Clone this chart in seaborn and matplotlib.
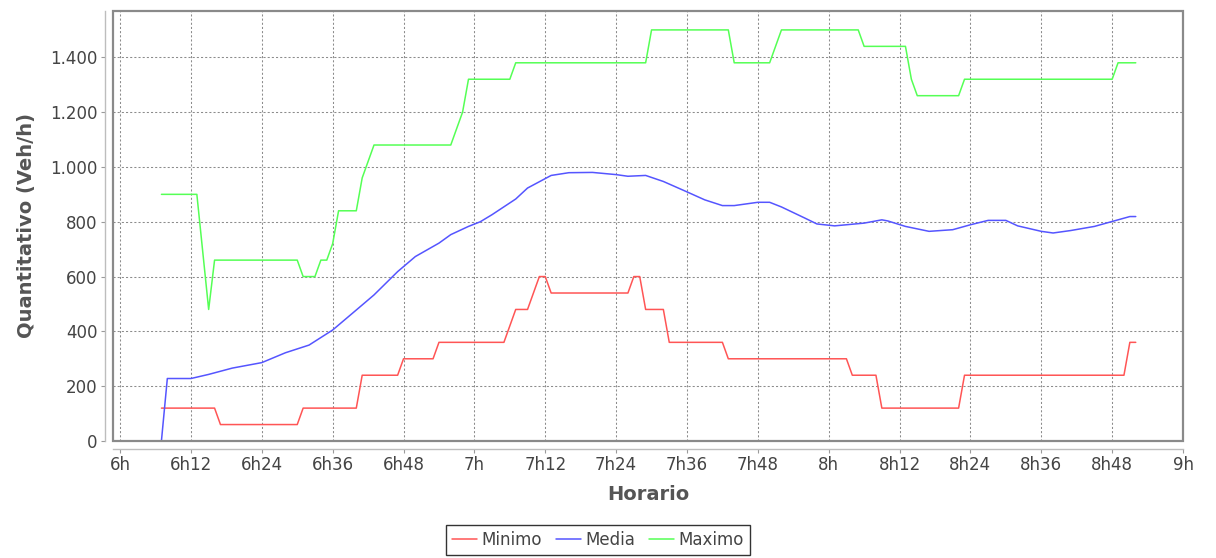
import pandas as pd
import matplotlib
matplotlib.use('Agg')
import matplotlib.pyplot as plt
from matplotlib.patches import Rectangle
import seaborn as sns

# minutos depois das 6h
minimo_t = [7, 16, 17, 30, 31, 40, 41, 47, 48, 53, 54, 65, 67, 69, 71, 72, 73, 86, 87, 88, 89,
            92, 93, 102, 103, 123, 124, 128, 129, 142, 143, 170, 171, 172]
minimo_v = [120, 120, 60, 60, 120, 120, 240, 240, 300, 300, 360, 360, 480, 480, 600, 600, 540, 540,
            600, 600, 480, 480, 360, 360, 300, 300, 240, 240, 120, 120, 240, 240, 360, 360]

media_t = [7, 8, 12, 15, 19, 24, 28, 32, 36, 40, 43, 47, 50, 54, 56, 59, 61, 63, 67, 69, 73, 76,
           80, 84, 86, 89, 92, 96, 99, 102, 104, 108, 110, 112, 116, 118, 121, 126, 129, 130, 133,
           137, 141, 144, 147, 150, 152, 156, 158, 161, 165, 168, 171, 172]
media_v = [0, 228, 228, 243, 266, 286, 322, 350, 405, 478, 533, 618, 673, 722, 753, 783, 800, 826,
           883, 923, 969, 979, 980, 972, 966, 969, 947, 909, 880, 859, 859, 871, 871, 854, 813, 792,
           785, 795, 807, 803, 783, 765, 771, 789, 805, 805, 785, 765, 759, 768, 783, 801, 819, 819]

maximo_t = [7, 13, 15, 16, 30, 31, 33, 34, 35, 36, 37, 40, 41, 43, 56, 58, 59, 66, 67, 89, 90, 103,
            104, 110, 112, 125, 126, 133, 134, 135, 142, 143, 168, 169, 172]
maximo_v = [900, 900, 480, 660, 660, 600, 600, 660, 660, 720, 840, 840, 960, 1080, 1080, 1200, 1320,
            1320, 1380, 1380, 1500, 1500, 1380, 1380, 1500, 1500, 1440, 1440, 1320, 1260, 1260, 1320,
            1320, 1380, 1380]

series = ['Minimo', 'Media', 'Maximo']
cores = {'Minimo': '#ff5555', 'Media': '#5555ff', 'Maximo': '#55ff55'}

x_ticks = list(range(0, 181, 12))
x_labels = ['6h', '6h12', '6h24', '6h36', '6h48', '7h', '7h12', '7h24', '7h36', '7h48',
            '8h', '8h12', '8h24', '8h36', '8h48', '9h']
y_ticks = [0, 200, 400, 600, 800, 1000, 1200, 1400]
y_labels = ['0', '200', '400', '600', '800', '1.000', '1.200', '1.400']

df = pd.concat([
    pd.DataFrame({'t': minimo_t, 'v': minimo_v, 'serie': 'Minimo'}),
    pd.DataFrame({'t': media_t, 'v': media_v, 'serie': 'Media'}),
    pd.DataFrame({'t': maximo_t, 'v': maximo_v, 'serie': 'Maximo'}),
], ignore_index=True)

sns.set_style('white')
plt.rcParams['font.family'] = ['DejaVu Sans']

fig = plt.figure(figsize=(12.16, 5.58), dpi=100)
ax = fig.add_axes([113 / 1216, 1 - 441 / 558, (1183 - 113) / 1216, (441 - 11) / 558])

sns.lineplot(data=df, x='t', y='v', hue='serie', hue_order=series, palette=cores,
             estimator=None, sort=False, linewidth=1.1, ax=ax, zorder=3)

ax.set_xlim(-1.2, 180)
ax.set_ylim(0, 1569)
ax.set_xticks(x_ticks)
ax.set_xticklabels(x_labels)
ax.set_yticks(y_ticks)
ax.set_yticklabels(y_labels)

ax.grid(True, color='#8c8c8c', linestyle=(0, (2, 2)), linewidth=0.75)
ax.set_axisbelow(True)

# moldura da área do gráfico
ax.add_patch(Rectangle((0, 0), 1, 1, transform=ax.transAxes, fill=False,
                       edgecolor='#8a8a8a', linewidth=1.6, clip_on=False, zorder=4))

# eixos deslocados (estilo JFreeChart)
for lado in ['top', 'right']:
    ax.spines[lado].set_visible(False)
for lado in ['left', 'bottom']:
    ax.spines[lado].set_position(('outward', 6))
    ax.spines[lado].set_color('#bdbdbd')
    ax.spines[lado].set_linewidth(1.0)

ax.tick_params(axis='both', which='major', direction='out', length=3, width=0.8,
               color='#9a9a9a', labelsize=12, labelcolor='#444444', pad=2,
               left=True, bottom=True)

ax.set_xlabel('Horario', fontsize=14, fontweight='bold', color='#555555', labelpad=8)
ax.set_ylabel('Quantitativo (Veh/h)', fontsize=14, fontweight='bold', color='#555555', labelpad=10)

handles, labels = ax.get_legend_handles_labels()
leg = ax.legend(handles, labels, loc='center', bbox_to_anchor=(598 / 1216, 1 - 540 / 558),
                bbox_transform=fig.transFigure, ncol=3, frameon=True, fancybox=False,
                edgecolor='black', fontsize=12, handlelength=1.5, handletextpad=0.3,
                columnspacing=0.8, borderpad=0.35, borderaxespad=0)
leg.get_frame().set_linewidth(1.0)
for txt in leg.get_texts():
    txt.set_color('#444444')

fig.savefig('out.png', dpi=100)
plt.close(fig)
